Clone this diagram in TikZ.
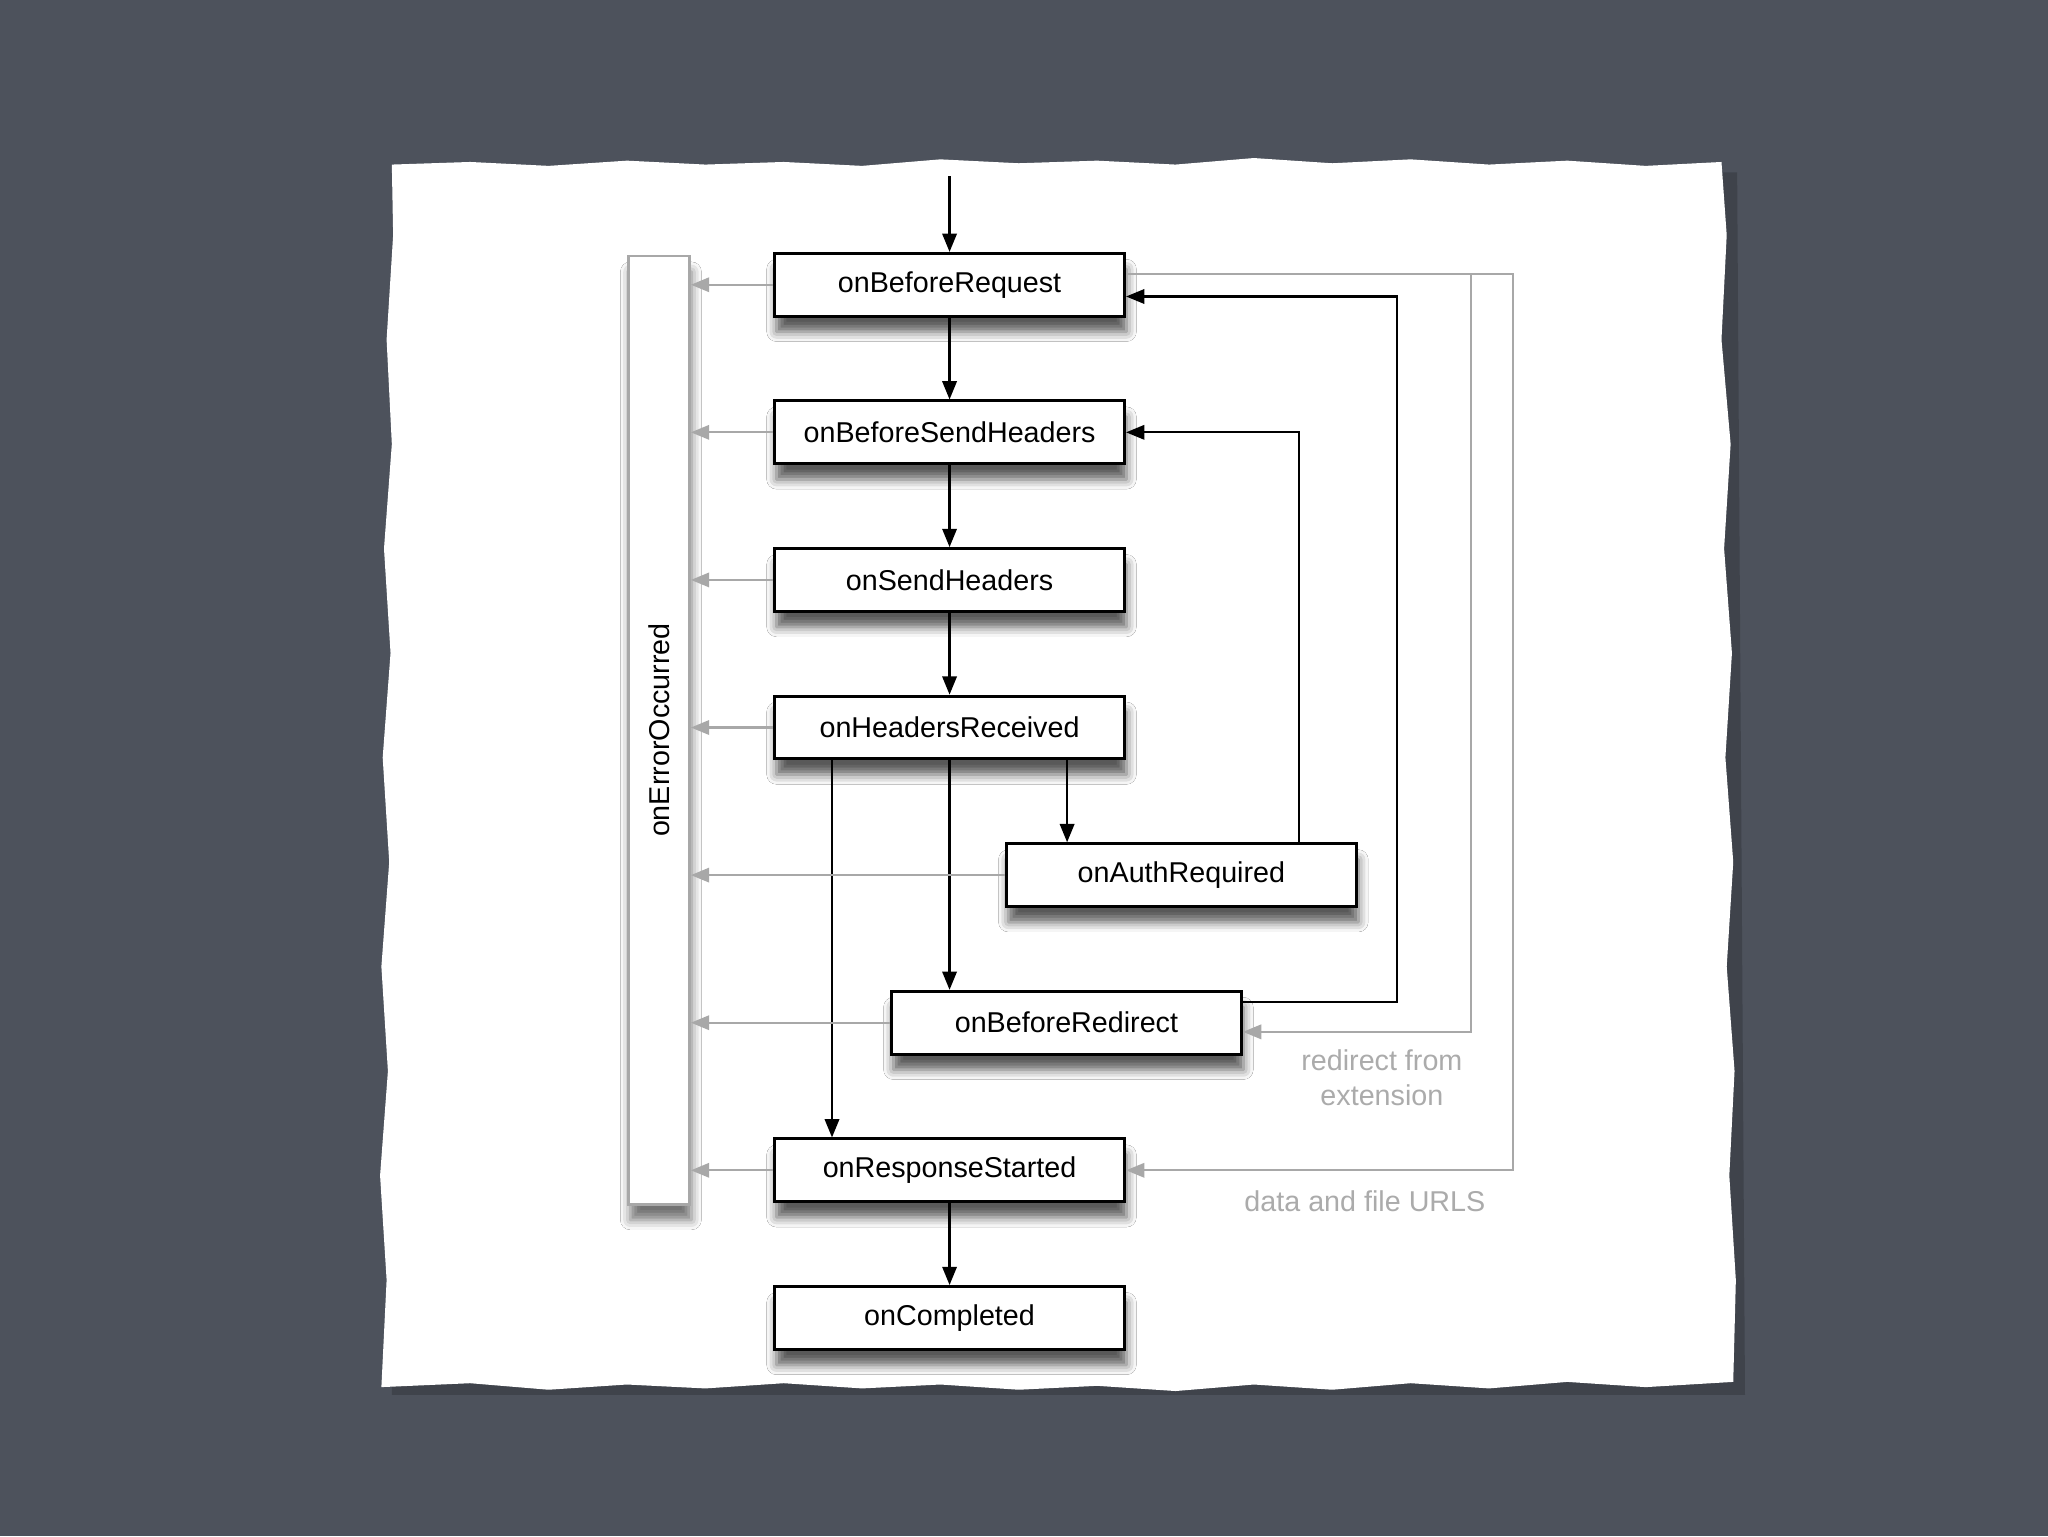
\documentclass[tikz,border=0pt]{standalone}
\usepackage{fontspec}
\setmainfont{Liberation Sans}
\usetikzlibrary{arrows.meta,shadows.blur}

\definecolor{slate}{HTML}{4D525C}
\definecolor{flowgrey}{HTML}{A8A8A8}
\definecolor{notegrey}{HTML}{ABABAB}

\begin{document}
\begin{tikzpicture}[x=0.2mm,y=-0.2mm,>={Triangle[length=2.8mm,width=2.2mm]},
  every node/.style={font=\fontsize{12.5}{15}\selectfont},
  evt/.style={draw,line width=1.3pt,fill=white,minimum width=53.6mm,minimum height=9.6mm,
    inner sep=0pt,blur shadow={shadow xshift=0.3mm,shadow yshift=-2.4mm,shadow blur radius=1.5mm,shadow opacity=65}},
  errbar/.style={draw=flowgrey,line width=1.1pt,fill=white,minimum width=9.4mm,minimum height=145.2mm,
    inner sep=0pt,blur shadow={shadow xshift=0.3mm,shadow yshift=-2.4mm,shadow blur radius=1.5mm,shadow opacity=55}},
  flow/.style={->,line width=1pt},
  side/.style={->,draw=flowgrey,line width=1pt},
  note/.style={text=notegrey,align=center}]
  \useasboundingbox (0,0) rectangle (1568,1176);
  % board and torn paper
  \fill[slate] (0,0) rectangle (1568,1176);
  \fill[black,opacity=0.18] (306,130) -- (1330,132) -- (1336,1068) -- (300,1068) -- cycle;
  \fill[white] (300,126) -- (360,124) -- (420,127) -- (480,123) -- (540,126) -- (600,124)
    -- (660,127) -- (720,122) -- (780,125) -- (840,123) -- (900,126) -- (960,121) -- (1020,125)
    -- (1080,122) -- (1140,126) -- (1200,123) -- (1260,127) -- (1318,124)
    -- (1322,180) -- (1318,260) -- (1325,340) -- (1320,420) -- (1326,500) -- (1321,580)
    -- (1327,660) -- (1322,740) -- (1328,820) -- (1324,900) -- (1329,980) -- (1327,1058)
    -- (1260,1062) -- (1200,1058) -- (1140,1063) -- (1080,1059) -- (1020,1064) -- (960,1060)
    -- (900,1065) -- (840,1061) -- (780,1064) -- (720,1060) -- (660,1063) -- (600,1059)
    -- (540,1063) -- (480,1060) -- (420,1064) -- (360,1059) -- (292,1062)
    -- (296,980) -- (291,900) -- (297,820) -- (292,740) -- (298,660) -- (293,580)
    -- (299,500) -- (294,420) -- (300,340) -- (296,260) -- (301,180) -- cycle;

  \coordinate (start) at (727,135);
  \node[errbar] (err) at (504.5,559) {};
  \node[rotate=90] (errtext) at (err.center) {onErrorOccurred};
  \node[evt] (req) at (727,218) {onBeforeRequest};
  \node[evt] (sendh) at (727,331) {onBeforeSendHeaders};
  \node[evt] (sent) at (727,444) {onSendHeaders};
  \node[evt] (hdrs) at (727,557) {onHeadersReceived};
  \node[evt] (auth) at (904.5,670) {onAuthRequired};
  \node[evt] (redir) at (816.5,783) {onBeforeRedirect};
  \node[evt] (resp) at (727,896) {onResponseStarted};
  \node[evt] (done) at (727,1009) {onCompleted};
  \node[note] (redirnote) at (1058,825) {redirect from\\extension};
  \node[note] (datanote) at (1045,920) {data and file URLS};

  % main chain
  \draw[flow] (start) -- (req);
  \draw[flow] (req) -- (sendh);
  \draw[flow] (sendh) -- (sent);
  \draw[flow] (sent) -- (hdrs);
  \draw[flow] ([xshift=-18mm]hdrs.south) -- ([xshift=-18mm]resp.north);
  \draw[flow] (hdrs.south) -- (hdrs.south |- redir.north);
  \draw[flow] ([xshift=18mm]hdrs.south) -- ([xshift=18mm]hdrs.south |- auth.north);
  \draw[flow] (resp) -- (done);
  % loops back up
  \draw[flow] ([xshift=18mm]auth.north) |- (sendh.east);
  \draw[flow] ([yshift=3.2mm]redir.east) -- ++(118,0) |- ([yshift=-1.8mm]req.east);
  \draw[side] ([yshift=1.6mm]req.east) -- ++(264,0) |- ([yshift=-1.4mm]redir.east);
  \draw[side] ([yshift=1.6mm]req.east) -- ++(296,0) |- (resp.east);
  % errors
  \foreach \ev in {req,sendh,sent,hdrs,auth,redir,resp}
    \draw[side] (\ev.west) -- (\ev.west -| err.east);
\end{tikzpicture}
\end{document}
